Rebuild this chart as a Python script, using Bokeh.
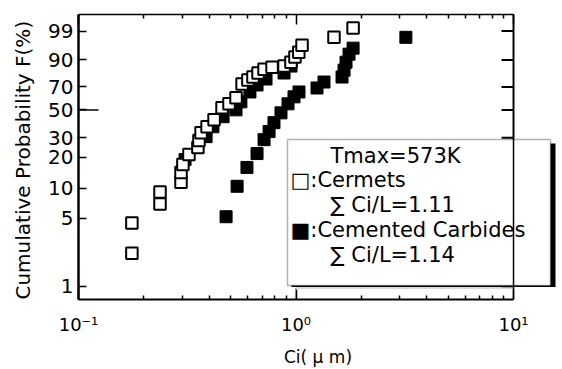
import numpy as np
from bokeh.plotting import figure
from bokeh.models import (LogAxis, FixedTicker, CustomJSTickFormatter,
                          BoxAnnotation, Label, Span)
from bokeh.embed import file_html
from bokeh.resources import INLINE

# ---------------- data ----------------
cermet_ci = [0.176, 0.176, 0.237, 0.237, 0.296, 0.296, 0.302, 0.322, 0.354, 0.358,
             0.366, 0.390, 0.420, 0.457, 0.492, 0.530, 0.565, 0.601, 0.634, 0.669,
             0.713, 0.776, 0.881, 0.948, 0.989, 1.03, 1.066, 1.495, 1.83]
cermet_F = [2.2, 4.5, 7.0, 9.2, 11.5, 14.3, 17.1, 21.2, 24.5, 28.3,
            33.1, 37.1, 42.2, 51.8, 55.2, 60.4, 72.5, 75.9, 78.3, 81.4,
            84.2, 85.6, 86.3, 88.7, 91.5, 93.7, 96.2, 98.1, 99.3]

carbide_ci = [0.477, 0.536, 0.595, 0.662, 0.713, 0.752, 0.792, 0.853, 0.919, 0.979,
              1.032, 1.249, 1.345, 1.628, 1.663, 1.698, 1.753, 1.83, 3.2]
carbide_F = [5.2, 10.5, 16.0, 21.6, 28.8, 33.8, 40.0, 47.6, 55.2, 61.3,
             65.6, 69.1, 74.2, 78.3, 83.5, 88.7, 92.9, 95.3, 98.1]

# filled squares partly hidden behind the open squares
hidden_ci = [0.309, 0.386, 0.415, 0.462, 0.530, 0.558, 0.614, 0.662, 0.728, 0.881, 0.948]
hidden_F = [19.0, 30.6, 37.1, 44.5, 50.1, 56.9, 65.6, 71.7, 76.7, 81.4, 86.3]

y_tick_pct = [1, 5, 10, 20, 30, 50, 70, 90, 99]
x_major = [0.1, 1.0, 10.0]
x_minor = [m * 10.0 ** k for k in (-1, 0) for m in range(2, 10)]

legend_title = "Tmax=573K"
legend_lines = ["\u25a1:Cermets", "\u2211 Ci/L=1.11", "\u25a0:Cemented Carbides", "\u2211 Ci/L=1.14"]


def weib(F):
    F = np.asarray(F, dtype=float) / 100.0
    return np.log(-np.log(1.0 - F))


FONT = "DejaVu Sans"

p = figure(width=562, height=369, x_axis_type="log", x_range=(0.1, 15.93),
           y_range=(-4.917, 1.925), output_backend="svg", toolbar_location=None,
           min_border_left=78, min_border_right=5, min_border_top=14, min_border_bottom=68)
p.background_fill_color = "white"
p.border_fill_color = "white"
p.outline_line_color = None
p.xgrid.grid_line_color = None
p.ygrid.grid_line_color = None

yticks = [float(v) for v in weib(y_tick_pct)]
x_right = float(x_major[-1])

yfmt_code = "return String(Math.round(100*(1-Math.exp(-Math.exp(tick)))));"
xfmt_code = ("const e = Math.round(Math.log10(tick));"
             "const m = {'-1':'\\u207B\\u00B9','0':'\\u2070','1':'\\u00B9'};"
             "return '10' + (m[String(e)] || '');")

# left axis
ya = p.yaxis[0]
ya.ticker = FixedTicker(ticks=yticks, minor_ticks=[])
ya.formatter = CustomJSTickFormatter(code=yfmt_code)
ya.major_label_text_font = FONT
ya.major_label_text_font_size = "20px"
ya.major_label_text_color = "black"
ya.major_label_standoff = 5
ya.major_tick_in = 8
ya.major_tick_out = 0
ya.major_tick_line_width = 1.5
ya.major_tick_line_color = "black"
ya.minor_tick_line_color = None
ya.axis_line_width = 2.5
ya.axis_line_color = "black"
ya.axis_label = "Cumulative Probability  F(%)"
ya.axis_label_text_font = FONT
ya.axis_label_text_font_size = "20px"
ya.axis_label_text_font_style = "normal"
ya.axis_label_text_color = "black"
ya.axis_label_standoff = 10

# bottom axis
xa = p.xaxis[0]
xa.bounds = (x_major[0], x_major[-1])
xa.ticker = FixedTicker(ticks=x_major, minor_ticks=x_minor)
xa.formatter = CustomJSTickFormatter(code=xfmt_code)
xa.major_label_text_font = FONT
xa.major_label_text_font_size = "18px"
xa.major_label_text_color = "black"
xa.major_label_standoff = 14
xa.major_tick_in = 10
xa.major_tick_out = 0
xa.minor_tick_in = 4
xa.minor_tick_out = 0
xa.major_tick_line_width = 1.5
xa.minor_tick_line_width = 1.5
xa.major_tick_line_color = "black"
xa.minor_tick_line_color = "black"
xa.axis_line_width = 2
xa.axis_line_color = "black"
xa.axis_label = "Ci( \u03bc m)"
xa.axis_label_text_font = FONT
xa.axis_label_text_font_size = "17px"
xa.axis_label_text_font_style = "normal"
xa.axis_label_text_color = "black"
xa.axis_label_standoff = 9

# top axis (ticks only, labels invisible)
top = LogAxis(ticker=FixedTicker(ticks=x_major, minor_ticks=x_minor),
              bounds=(x_major[0], x_major[-1]),
              major_label_text_color=None, major_label_text_font_size="9px",
              major_label_standoff=0,
              major_tick_in=10, major_tick_out=0, minor_tick_in=4, minor_tick_out=0,
              major_tick_line_width=1.5, minor_tick_line_width=1.5,
              axis_line_width=1.5, axis_line_color="black")
p.add_layout(top, "above")

# data
p.scatter(hidden_ci, weib(hidden_F), marker="square", size=12,
          fill_color="black", line_color="black", line_width=1)
p.scatter(cermet_ci, weib(cermet_F), marker="square", size=11.5,
          fill_color="white", line_color="black", line_width=2)
p.scatter(carbide_ci, weib(carbide_F), marker="square", size=12,
          fill_color="black", line_color="black", line_width=1)

# inward ticks on the right border and the longer 50 % tick on the left axis
p.ray(x=[x_right] * len(yticks), y=yticks, length=12, length_units="screen",
      angle=np.pi, line_color="black", line_width=2)
p.ray(x=[float(x_major[0])], y=[float(weib(50))], length=20, length_units="screen",
      angle=0, line_color="black", line_width=1.5)


# boxes in screen units, relative to the frame
def sbox(**kw):
    return BoxAnnotation(left_units="screen", right_units="screen",
                         bottom_units="screen", top_units="screen", **kw)


p.add_layout(sbox(left=217, right=435, bottom=0, top=11.5,
                  fill_alpha=0, line_color="black", line_width=1))
# legend: shadow, then white box
p.add_layout(sbox(left=213, right=477, bottom=12.5, top=156,
                  fill_color="black", fill_alpha=1, line_color=None))
p.add_layout(sbox(left=209, right=472, bottom=14, top=160,
                  fill_color="white", fill_alpha=1, line_color="black", line_width=1.5))

p.add_layout(Label(x=252, y=143.5, x_units="screen", y_units="screen", text=legend_title,
                   text_font=FONT, text_font_size="21px", text_baseline="middle",
                   text_align="left", text_color="black"))
legend_x = [212, 252, 212, 252]
legend_y = [119.5, 94.5, 69.5, 44.5]
for lx, ly, t in zip(legend_x, legend_y, legend_lines):
    p.add_layout(Label(x=lx, y=ly, x_units="screen", y_units="screen", text=t,
                       text_font=FONT, text_font_size="21px", text_baseline="middle",
                       text_align="left", text_color="black"))

# right border of the axes box (x = 10), drawn last: a thin filled strip above
# the legend plus a span
p.add_layout(sbox(left=434.2, right=435.8, bottom=160, top=287,
                  fill_color="black", fill_alpha=1, line_color=None))
p.add_layout(Span(location=x_right, dimension="height", line_color="black", line_width=1.5))

with open("out.html", "w", encoding="utf-8") as f:
    f.write(file_html(p, INLINE))
